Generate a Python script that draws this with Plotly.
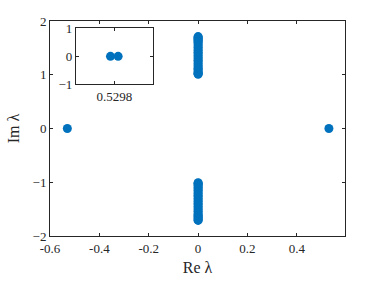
import plotly.graph_objects as go

# Main eigenvalue data
re_real = [-0.5298, 0.5298]
im_real = [0.0, 0.0]
im_upper = [1.01, 1.02, 1.03, 1.05, 1.07, 1.10, 1.12, 1.15, 1.18, 1.21, 1.24, 1.27,
            1.30, 1.33, 1.36, 1.39, 1.42, 1.45, 1.48, 1.51, 1.54, 1.57, 1.60, 1.62,
            1.64, 1.66, 1.68, 1.70, 1.71]
im_lower = [-v for v in im_upper]
# Inset (zoom near 0.5298)
inset_re = [0.52977, 0.52983]
inset_im = [0.0, 0.0]

x_ticks = [-0.6, -0.4, -0.2, 0, 0.2, 0.4]
x_ticklabels = ["-0.6", "-0.4", "-0.2", "0", "0.2", "0.4"]
y_ticks = [-2, -1, 0, 1, 2]
inset_xticks = [0.5298]
inset_yticks = [-1, 0, 1]

blue = "#0072BD"
axc = "#262626"
font = "Liberation Serif"

fig = go.Figure()
fig.add_trace(go.Scatter(x=re_real + [0] * len(im_upper) * 2,
                         y=im_real + im_upper + im_lower,
                         mode="markers", marker=dict(color=blue, size=9),
                         xaxis="x", yaxis="y", showlegend=False))
fig.add_trace(go.Scatter(x=inset_re, y=inset_im, mode="markers",
                         marker=dict(color=blue, size=9),
                         xaxis="x2", yaxis="y2", showlegend=False))

common = dict(showgrid=False, zeroline=False, showline=True, linecolor=axc,
              linewidth=1, mirror="ticks", ticks="inside", ticklen=3,
              tickcolor=axc, tickfont=dict(family=font, size=13, color=axc))

fig.update_layout(
    width=382, height=286,
    margin=dict(l=50, r=37, t=21, b=48),
    paper_bgcolor="white", plot_bgcolor="white",
    font=dict(family=font, color=axc),
    xaxis=dict(range=[-0.6, 0.595], tickvals=x_ticks, ticktext=x_ticklabels,
               title=dict(text="Re λ", font=dict(family=font, size=16, color=axc), standoff=7),
               domain=[0, 1], **common),
    yaxis=dict(range=[-2, 2], tickvals=y_ticks,
               title=dict(text="Im λ", font=dict(family=font, size=16, color=axc), standoff=8),
               domain=[0, 1], **common),
    xaxis2=dict(range=[0.5295, 0.5301], tickvals=inset_xticks, ticktext=["0.5298"],
                domain=[0.088, 0.348], anchor="y2", **common),
    yaxis2=dict(range=[-1, 1], tickvals=inset_yticks, domain=[0.705, 0.966],
                anchor="x2", **common),
)

fig.write_html("out.html", config={"displayModeBar": False},
               post_script="document.body.style.margin='0';document.body.style.overflow='hidden';")
